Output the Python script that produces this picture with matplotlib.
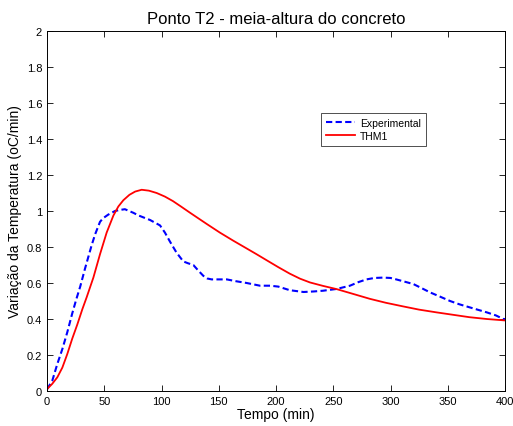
import matplotlib
matplotlib.use("Agg")
import matplotlib.pyplot as plt

plt.rcParams['font.family'] = ['Liberation Sans', 'DejaVu Sans']

exp_t = [0, 4.6, 9, 13.4, 17.7, 22, 25.6, 29, 33.2, 39, 42, 46.3, 49, 53.5, 59.4, 63, 68, 75.4,
         80, 90, 98.7, 103, 107.4, 113, 119, 123, 127.8, 132, 136.5, 140, 143.8, 150, 157, 165,
         174.4, 186, 195, 202, 212, 224, 233, 241, 253, 264.6, 272, 279, 286, 293.7, 300, 305,
         312, 320, 327, 334.5, 343, 352, 360, 369, 377, 384, 392, 398.5, 400]
exp_v = [0.01, 0.057, 0.15, 0.233, 0.326, 0.43, 0.51, 0.58, 0.68, 0.81, 0.87, 0.94, 0.96, 0.98,
         1.0, 1.005, 1.01, 0.99, 0.975, 0.95, 0.92, 0.88, 0.83, 0.77, 0.72, 0.71, 0.70, 0.67,
         0.64, 0.625, 0.62, 0.62, 0.62, 0.61, 0.60, 0.585, 0.585, 0.58, 0.56, 0.55, 0.553,
         0.557, 0.567, 0.585, 0.605, 0.62, 0.628, 0.63, 0.628, 0.62, 0.608, 0.594, 0.572,
         0.548, 0.525, 0.50, 0.482, 0.465, 0.45, 0.437, 0.42, 0.40, 0.40]

thm_t = [0, 4.6, 9, 13.4, 17.7, 22, 26.5, 30.9, 34.6, 40.5, 46.3, 52.1, 58, 62.3, 66.7, 72, 77,
         82.7, 89, 95.8, 103, 110, 117, 125, 132, 139.5, 151, 162.7, 173, 183, 193, 202, 212,
         221, 229.7, 241, 253, 267, 282, 296, 311, 325, 340, 355, 369, 384, 400]
thm_v = [0.01, 0.04, 0.076, 0.13, 0.205, 0.29, 0.37, 0.455, 0.52, 0.63, 0.76, 0.88, 0.975, 1.025,
         1.06, 1.09, 1.108, 1.118, 1.113, 1.10, 1.08, 1.055, 1.025, 0.99, 0.96, 0.928, 0.88,
         0.835, 0.797, 0.76, 0.722, 0.688, 0.652, 0.624, 0.603, 0.584, 0.566, 0.54, 0.512,
         0.49, 0.47, 0.452, 0.437, 0.423, 0.41, 0.40, 0.392]

xticks = [0, 50, 100, 150, 200, 250, 300, 350, 400]
yticks = [0, 0.2, 0.4, 0.6, 0.8, 1, 1.2, 1.4, 1.6, 1.8, 2]
ytick_labels = ['0', '0.2', '0.4', '0.6', '0.8', '1', '1.2', '1.4', '1.6', '1.8', '2']

fig = plt.figure(figsize=(5.13, 4.27), dpi=100)
ax = fig.add_axes([47/513, 1-392/427, (505-47)/513, (392-32)/427])
ax.plot(exp_t, exp_v, '--', color='#0000ff', lw=1.5, dashes=(3, 1.6), label='Experimental')
ax.plot(thm_t, thm_v, '-', color='#ff0000', lw=1.3, label='THM1')
ax.set_xlim(0, 400)
ax.set_ylim(0, 2)
ax.set_xticks(xticks)
ax.set_yticks(yticks)
ax.set_yticklabels(ytick_labels)
ax.tick_params(direction='in', length=4, labelsize=8, top=True, right=True, width=0.6)
for s in ax.spines.values():
    s.set_linewidth(0.7)
ax.set_title('Ponto T2 - meia-altura do concreto', fontsize=12, pad=6)
ax.set_xlabel('Tempo (min)', fontsize=10, labelpad=1)
ax.set_ylabel('Variação da Temperatura (oC/min)', fontsize=10, labelpad=3)
leg = ax.legend(loc='upper left', bbox_to_anchor=((316-47)/458, (392-109)/360), fontsize=7.5,
                fancybox=False, edgecolor='black', handlelength=2.8, borderpad=0.45,
                labelspacing=0.3, handletextpad=0.5)
leg.get_frame().set_linewidth(0.6)
fig.savefig('out.png', dpi=100)
